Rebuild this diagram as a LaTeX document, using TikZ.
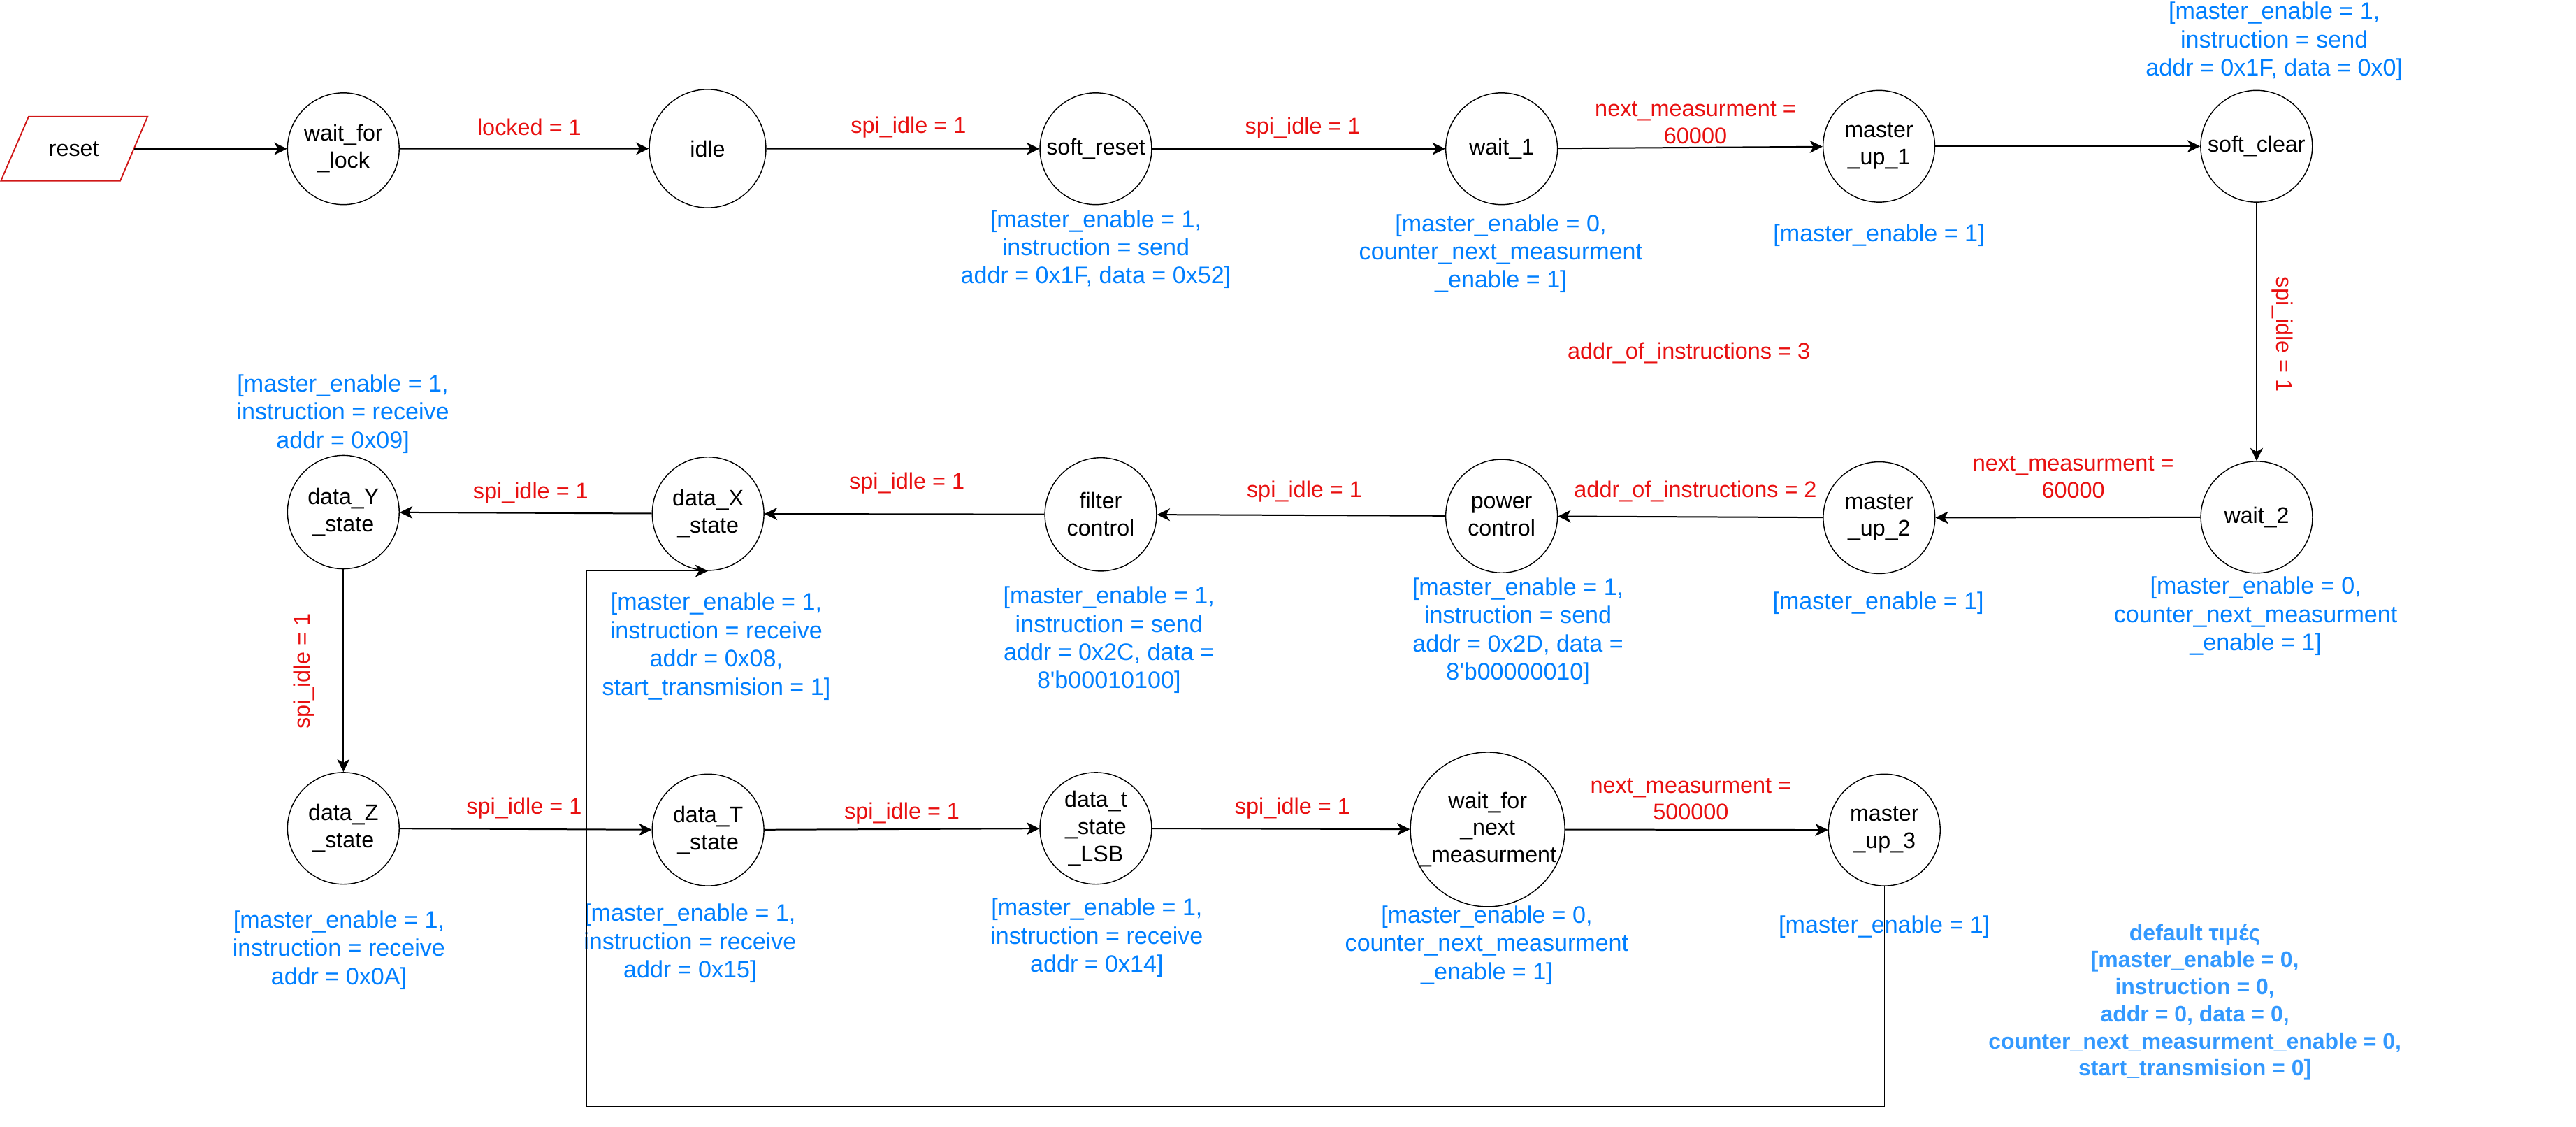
\documentclass[tikz,border=0pt]{standalone}
\usepackage{fontspec}
\setmainfont{Liberation Sans}
\usetikzlibrary{arrows.meta,shapes.geometric}
\definecolor{lblred}{HTML}{E81010}
\definecolor{annblue}{HTML}{007FFF}
\definecolor{defblue}{HTML}{3399FF}
\definecolor{rstred}{HTML}{D01818}
\tikzset{
  st/.style={draw, ellipse, line width=0.6pt, minimum width=68pt, minimum height=68pt, inner sep=0pt},
  stt/.style={align=center, font=\fontsize{13.7}{16.5}\selectfont, inner sep=0pt},
  cond/.style={text=lblred, align=center, font=\fontsize{13.8}{16.4}\selectfont, inner sep=0pt},
  ann/.style={text=annblue, align=center, font=\fontsize{14.5}{17.2}\selectfont, inner sep=0pt},
  defann/.style={text=defblue, align=center, font=\fontsize{13.6}{16.5}\selectfont\bfseries, inner sep=0pt},
  conn/.style={line width=0.85pt, -{Stealth[length=7.8pt,width=7.6pt,inset=2.2pt]}},
  thinconn/.style={conn, line width=0.7pt},
}
\begin{document}
\begin{tikzpicture}[x=1pt,y=-1pt]
\useasboundingbox (0,0) rectangle (1568,685.7);

% reset input
\draw[rstred, line width=0.8pt] (17.4,71) -- (89.8,71) -- (73.2,110) -- (0.6,110) -- cycle;
\node[stt] (reset) at (45,90.5) {reset};
\coordinate (resetR) at (81.5,90.5);

% row 1
\node[st] (wfl) at (209,90.5) {};
\node[stt] (wflt) at (wfl.center) {wait\_for\\\_lock};
\node[st, minimum width=71pt, minimum height=72pt] (idle) at (430.7,90.4) {};
\node[stt] (idlet) at (idle.center) {idle};
\node[st] (srst) at (667,90.5) {};
\node[stt] (srstt) at (srst.center) {soft\_reset};
\node[st] (w1) at (914,90.5) {};
\node[stt] (w1t) at (w1.center) {wait\_1};
\node[st] (mu1) at (1143.7,89) {};
\node[stt] (mu1t) at (mu1.center) {master\\\_up\_1};
\node[st] (sclr) at (1373.5,89) {};
\node[stt] (sclrt) at (sclr.center) {soft\_clear};

% row 2
\node[st] (w2) at (1373.6,314.7) {};
\node[stt] (w2t) at (w2.center) {wait\_2};
\node[st] (mu2) at (1143.8,315) {};
\node[stt] (mu2t) at (mu2.center) {master\\\_up\_2};
\node[st, minimum height=69pt] (pwr) at (914,314) {};
\node[stt] (pwrt) at (pwr.center) {power\\control};
\node[st, minimum height=69pt] (flt) at (670,313) {};
\node[stt] (fltt) at (flt.center) {filter\\control};
\node[st, minimum height=69pt] (dX) at (431,312.6) {};
\node[stt] (dXt) at (dX.center) {data\_X\\\_state};
\node[st, minimum height=69pt] (dY) at (209,311.6) {};
\node[stt] (dYt) at (dY.center) {data\_Y\\\_state};

% row 3
\node[st] (dZ) at (209,504) {};
\node[stt] (dZt) at (dZ.center) {data\_Z\\\_state};
\node[st] (dT) at (431,505) {};
\node[stt] (dTt) at (dT.center) {data\_T\\\_state};
\node[st] (dL) at (667,504) {};
\node[stt] (dLt) at (dL.center) {data\_t\\\_state\\\_LSB};
\node[st, minimum width=94pt, minimum height=94pt] (wn) at (905.5,504.7) {};
\node[stt] (wnt) at (wn.center) {wait\_for\\\_next\\\_measurment};
\node[st] (mu3) at (1147,505) {};
\node[stt] (mu3t) at (mu3.center) {master\\\_up\_3};

% annotations (outputs)
\node[ann] (a1) at (667,151.7) {[master\_enable = 1,\\instruction = send\\addr = 0x1F, data = 0x52]};
\node[ann] (a2) at (913.5,154.3) {[master\_enable = 0,\\counter\_next\_measurment\\\_enable = 1]};
\node[ann] (a3) at (1143.7,143.2) {[master\_enable = 1]};
\node[ann] (a4) at (1384.3,25.3) {[master\_enable = 1,\\instruction = send\\addr = 0x1F, data = 0x0]};
\node[ann] (a5) at (1373,375) {[master\_enable = 0,\\counter\_next\_measurment\\\_enable = 1]};
\node[ann] (a6) at (1143.3,367) {[master\_enable = 1]};
\node[ann] (a7) at (924,384.2) {[master\_enable = 1,\\instruction = send\\addr = 0x2D, data =\\8\textquotesingle b00000010]};
\node[ann] (a8) at (675,389.4) {[master\_enable = 1,\\instruction = send\\addr = 0x2C, data =\\8\textquotesingle b00010100]};
\node[ann] (a9) at (436,393.3) {[master\_enable = 1,\\instruction = receive\\addr = 0x08,\\start\_transmision = 1]};
\node[ann] (a10) at (208.7,251.8) {[master\_enable = 1,\\instruction = receive\\addr = 0x09]};
\node[ann] (a11) at (206.3,578) {[master\_enable = 1,\\instruction = receive\\addr = 0x0A]};
\node[ann] (a12) at (420,574.1) {[master\_enable = 1,\\instruction = receive\\addr = 0x15]};
\node[ann] (a13) at (667.6,570.7) {[master\_enable = 1,\\instruction = receive\\addr = 0x14]};
\node[ann] (a14) at (905,575.2) {[master\_enable = 0,\\counter\_next\_measurment\\\_enable = 1]};
\node[ann] (a15) at (1147,564) {[master\_enable = 1]};
\node[defann] (dflt) at (1336,609.8) {default τιμές\\{[}master\_enable = 0,\\instruction = 0,\\addr = 0, data = 0,\\counter\_next\_measurment\_enable = 0,\\start\_transmision = 0]};

% transition conditions
\node[cond] (c1) at (322.2,77.4) {locked = 1};
\node[cond] (c2) at (553,77.5) {spi\_idle = 1};
\node[cond] (c3) at (793,78) {spi\_idle = 1};
\node[cond] (c4) at (1032,74.8) {next\_measurment =\\60000};
\node[cond] (c5) at (1028,215) {addr\_of\_instructions = 3};
\node[cond, rotate=-90] (c6) at (1389.4,203.5) {spi\_idle = 1};
\node[cond] (c7) at (1262,290.3) {next\_measurment =\\60000};
\node[cond] (c8) at (1032,299) {addr\_of\_instructions = 2};
\node[cond] (c9) at (794,299) {spi\_idle = 1};
\node[cond] (c10) at (552,294) {spi\_idle = 1};
\node[cond] (c11) at (323,299.8) {spi\_idle = 1};
\node[cond, rotate=90] (c12) at (185,408.5) {spi\_idle = 1};
\node[cond] (c13) at (319,491.6) {spi\_idle = 1};
\node[cond] (c14) at (549,494.7) {spi\_idle = 1};
\node[cond] (c15) at (786.7,491.6) {spi\_idle = 1};
\node[cond] (c16) at (1029.2,486.3) {next\_measurment =\\500000};

% connectors
\draw[conn] (resetR) -- (wfl);
\draw[conn] (wfl) -- (idle);
\draw[conn] (idle) -- (srst);
\draw[conn] (srst) -- (w1);
\draw[conn] (w1) -- (mu1);
\draw[thinconn] (mu1) -- (sclr);
\draw[thinconn] (sclr) -- (w2);
\draw[conn] (w2) -- (mu2);
\draw[conn] (mu2) -- (pwr);
\draw[conn] (pwr) -- (flt);
\draw[conn] (flt) -- (dX);
\draw[conn] (dX) -- (dY);
\draw[thinconn] (dY) -- (dZ);
\draw[conn] (dZ) -- (dT);
\draw[conn] (dT) -- (dL);
\draw[conn] (dL) -- (wn);
\draw[conn] (wn) -- (mu3);
\coordinate (lpA) at (357,673.4);
\draw[thinconn] (mu3.south) |- (lpA) |- (dX.south);
\end{tikzpicture}
\end{document}
